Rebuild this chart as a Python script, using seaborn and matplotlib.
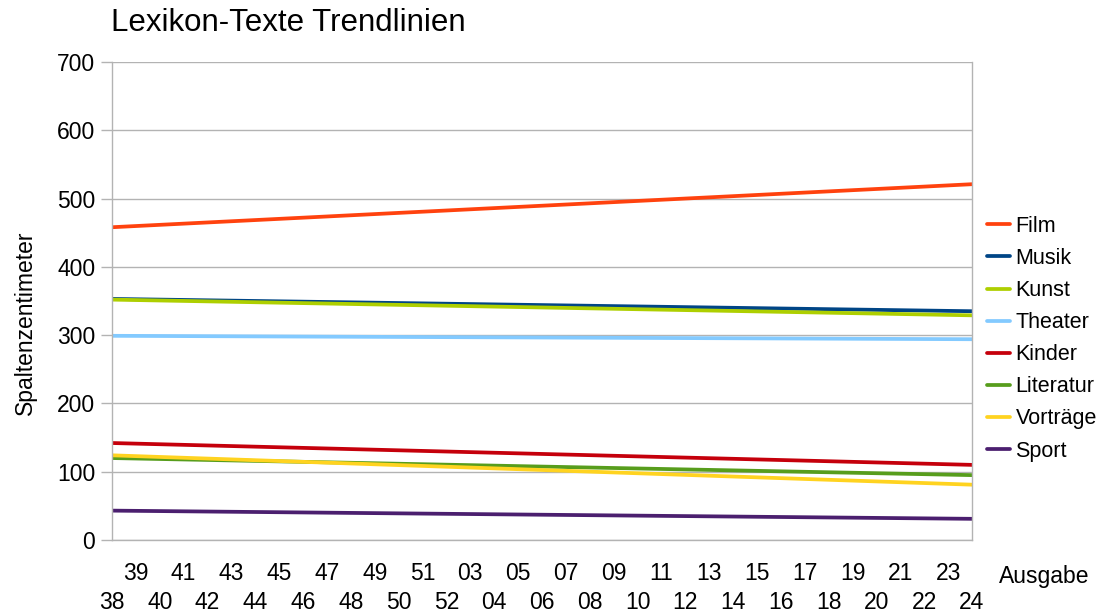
import pandas as pd
import seaborn as sns
import matplotlib.pyplot as plt
from matplotlib.ticker import FixedLocator

sns.set_style('white')
plt.rcParams['font.family'] = ['Liberation Sans', 'DejaVu Sans']
plt.rcParams['text.color'] = 'black'

# Ausgaben (Heftnummern) 38/52 und 03/24
ausgaben = ['38', '39', '40', '41', '42', '43', '44', '45', '46', '47', '48', '49',
            '50', '51', '52', '03', '04', '05', '06', '07', '08', '09', '10', '11',
            '12', '13', '14', '15', '16', '17', '18', '19', '20', '21', '22', '23', '24']

# Trendlinien: Wert bei erster und letzter Ausgabe
kategorien = ['Film', 'Musik', 'Kunst', 'Theater', 'Kinder', 'Literatur', 'Vorträge', 'Sport']
film = [458, 521]
musik = [353, 335]
kunst = [352, 329]
theater = [299, 294]
kinder = [142, 110]
literatur = [120, 95]
vortraege = [124, 81]
sport = [43, 31]
farben = ['#ff420e', '#004586', '#aecf00', '#83caff', '#c5000b', '#579d1c', '#ffd320', '#4b1f6f']

werte = [film, musik, kunst, theater, kinder, literatur, vortraege, sport]
endpunkte = [0, len(ausgaben) - 1]
rows = []
for name, w in zip(kategorien, werte):
    for x, y in zip(endpunkte, w):
        rows.append({'Ausgabe': x, 'Spaltenzentimeter': y, 'Kategorie': name})
df = pd.DataFrame(rows)

fig = plt.figure(figsize=(11.01, 6.13), dpi=100)
ax = fig.add_axes([0.1017, 0.1191, 0.7811, 0.7798])
sns.lineplot(data=df, x='Ausgabe', y='Spaltenzentimeter', hue='Kategorie',
             hue_order=kategorien, palette=farben, linewidth=2.7, ax=ax)

grau = '#b3b3b3'
fs = 16.5
ax.set_xlim(0, len(ausgaben) - 1)
ax.set_ylim(0, 700)
ax.set_yticks(range(0, 701, 100))
ax.yaxis.grid(True, color=grau, linewidth=1)
for s in ax.spines.values():
    s.set_color(grau)
    s.set_linewidth(1)
ax.spines['top'].set_visible(False)

# gestaffelte Beschriftung: gerade Positionen unten, ungerade oben
gerade = list(range(0, len(ausgaben), 2))
ungerade = list(range(1, len(ausgaben), 2))
ax.xaxis.set_major_locator(FixedLocator(gerade))
ax.xaxis.set_minor_locator(FixedLocator(ungerade))
ax.set_xticklabels([ausgaben[i] for i in gerade])
ax.set_xticklabels([ausgaben[i] for i in ungerade], minor=True)
ax.tick_params(axis='x', which='major', length=9, width=1, color=grau, pad=28,
               labelsize=fs, labelcolor='black')
ax.tick_params(axis='x', which='minor', length=9, width=1, color=grau, pad=7,
               labelsize=fs, labelcolor='black')
ax.tick_params(axis='y', length=8, width=1, color=grau, pad=4, labelsize=fs,
               labelcolor='black', left=True)

ax.set_xlabel('')
ax.set_ylabel('')
fig.text(0.023, 0.473, 'Spaltenzentimeter', rotation=90, fontsize=fs, ha='center', va='center')
fig.text(0.907, 0.059, 'Ausgabe', fontsize=fs, ha='left', va='center')
fig.text(0.101, 0.963, 'Lexikon-Texte Trendlinien', fontsize=22.5, ha='left', va='center')

ax.legend(loc='upper left', bbox_to_anchor=(1.008, 0.696), frameon=False,
          fontsize=15.5, handlelength=1.05, handletextpad=0.25, labelspacing=0.515,
          borderaxespad=0)

fig.savefig('out.png', dpi=100)
